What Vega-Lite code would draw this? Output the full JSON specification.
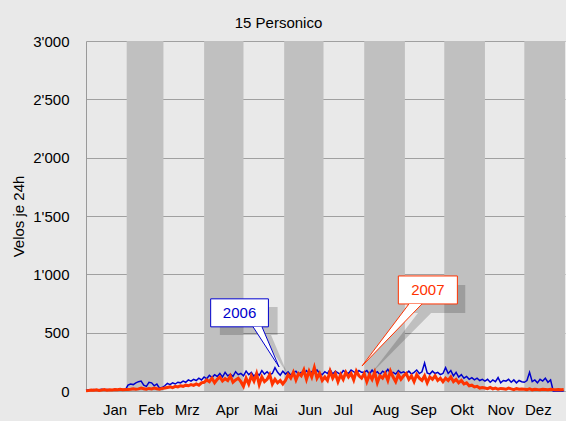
{
  "$schema": "https://vega.github.io/schema/vega-lite/v6.json",
  "width": 479,
  "height": 350,
  "autosize": "none",
  "padding": {"left": 86, "top": 41, "right": 1, "bottom": 30},
  "background": "#e9e9e9",
  "config": {
    "view": {"stroke": null},
    "font": "Liberation Sans",
    "axis": {"labelFont": "Liberation Sans", "titleFont": "Liberation Sans"}
  },
  "title": {"text": "15 Personico", "fontSize": 15, "fontWeight": "normal", "font": "Liberation Sans", "color": "#000", "anchor": "middle", "dx": -47, "offset": 3},
  "datasets": {
    "series": [
      {"d":0,"a":5,"b":3},{"d":2,"a":10,"b":5},{"d":4,"a":8,"b":8},{"d":6,"a":12,"b":6},{"d":8,"a":6,"b":10},{"d":10,"a":10,"b":5},{"d":12,"a":15,"b":8},{"d":14,"a":8,"b":12},{"d":16,"a":12,"b":6},{"d":18,"a":10,"b":10},{"d":20,"a":6,"b":8},{"d":22,"a":14,"b":12},{"d":24,"a":10,"b":10},{"d":26,"a":8,"b":15},{"d":28,"a":12,"b":10},{"d":30,"a":10,"b":12},
      {"d":32,"a":50,"b":12},{"d":34,"a":60,"b":15},{"d":36,"a":55,"b":20},{"d":38,"a":70,"b":15},{"d":40,"a":80,"b":18},{"d":42,"a":85,"b":25},{"d":44,"a":50,"b":20},{"d":46,"a":40,"b":15},{"d":48,"a":75,"b":22},{"d":50,"a":70,"b":18},{"d":52,"a":45,"b":25},{"d":54,"a":60,"b":20},{"d":56,"a":25,"b":15},{"d":58,"a":30,"b":22},
      {"d":60,"a":45,"b":25},{"d":62,"a":65,"b":30},{"d":64,"a":55,"b":35},{"d":66,"a":70,"b":28},{"d":68,"a":60,"b":40},{"d":70,"a":75,"b":35},{"d":72,"a":70,"b":45},{"d":74,"a":85,"b":40},{"d":76,"a":75,"b":50},{"d":78,"a":95,"b":45},{"d":80,"a":85,"b":55},{"d":82,"a":100,"b":48},{"d":84,"a":90,"b":60},{"d":86,"a":110,"b":50},{"d":88,"a":95,"b":70},
      {"d":90,"a":120,"b":75},{"d":92,"a":105,"b":95},{"d":94,"a":135,"b":80},{"d":96,"a":115,"b":110},{"d":98,"a":140,"b":70},{"d":100,"a":125,"b":100},{"d":102,"a":150,"b":120},{"d":104,"a":120,"b":85},{"d":106,"a":160,"b":105},{"d":108,"a":130,"b":90},{"d":110,"a":145,"b":130},{"d":112,"a":125,"b":75},{"d":114,"a":165,"b":95},{"d":116,"a":140,"b":110},{"d":118,"a":150,"b":80},
      {"d":120,"a":130,"b":40},{"d":122,"a":170,"b":110},{"d":124,"a":140,"b":60},{"d":126,"a":160,"b":130},{"d":128,"a":125,"b":85},{"d":130,"a":155,"b":150},{"d":132,"a":135,"b":55},{"d":134,"a":175,"b":120},{"d":136,"a":145,"b":80},{"d":138,"a":165,"b":100},{"d":140,"a":140,"b":140},{"d":142,"a":150,"b":60},{"d":144,"a":200,"b":100},{"d":146,"a":160,"b":70},{"d":148,"a":135,"b":90},{"d":150,"a":170,"b":60},
      {"d":152,"a":145,"b":90},{"d":154,"a":165,"b":140},{"d":156,"a":135,"b":110},{"d":158,"a":155,"b":160},{"d":160,"a":170,"b":95},{"d":162,"a":140,"b":150},{"d":164,"a":160,"b":130},{"d":166,"a":150,"b":180},{"d":168,"a":175,"b":100},{"d":170,"a":145,"b":170},{"d":172,"a":165,"b":120},{"d":174,"a":155,"b":200},{"d":176,"a":180,"b":110},{"d":178,"a":150,"b":150},{"d":180,"a":140,"b":90},
      {"d":182,"a":165,"b":120},{"d":184,"a":150,"b":90},{"d":186,"a":185,"b":170},{"d":188,"a":145,"b":110},{"d":190,"a":170,"b":150},{"d":192,"a":155,"b":80},{"d":194,"a":140,"b":140},{"d":196,"a":175,"b":100},{"d":198,"a":160,"b":160},{"d":200,"a":150,"b":120},{"d":202,"a":180,"b":150},{"d":204,"a":165,"b":95},{"d":206,"a":150,"b":170},{"d":208,"a":175,"b":130},{"d":210,"a":160,"b":110},
      {"d":212,"a":160,"b":150},{"d":214,"a":175,"b":80},{"d":216,"a":145,"b":140},{"d":218,"a":180,"b":100},{"d":220,"a":150,"b":160},{"d":222,"a":165,"b":70},{"d":224,"a":140,"b":130},{"d":226,"a":170,"b":110},{"d":228,"a":155,"b":150},{"d":230,"a":185,"b":90},{"d":232,"a":150,"b":170},{"d":234,"a":160,"b":120},{"d":236,"a":145,"b":80},{"d":238,"a":175,"b":140},{"d":240,"a":155,"b":100},{"d":242,"a":165,"b":130},
      {"d":244,"a":150,"b":150},{"d":246,"a":170,"b":100},{"d":248,"a":145,"b":130},{"d":250,"a":160,"b":80},{"d":252,"a":180,"b":140},{"d":254,"a":150,"b":110},{"d":256,"a":165,"b":90},{"d":258,"a":240,"b":130},{"d":260,"a":155,"b":70},{"d":262,"a":145,"b":120},{"d":264,"a":170,"b":100},{"d":266,"a":150,"b":130},{"d":268,"a":160,"b":90},{"d":270,"a":140,"b":110},{"d":272,"a":150,"b":80},
      {"d":274,"a":200,"b":110},{"d":276,"a":150,"b":90},{"d":278,"a":175,"b":120},{"d":280,"a":130,"b":80},{"d":282,"a":160,"b":100},{"d":284,"a":120,"b":70},{"d":286,"a":140,"b":90},{"d":288,"a":110,"b":60},{"d":290,"a":125,"b":70},{"d":292,"a":100,"b":45},{"d":294,"a":115,"b":50},{"d":296,"a":95,"b":35},{"d":298,"a":110,"b":40},{"d":300,"a":90,"b":25},{"d":302,"a":100,"b":30},
      {"d":304,"a":85,"b":25},{"d":306,"a":100,"b":20},{"d":308,"a":75,"b":30},{"d":310,"a":95,"b":18},{"d":312,"a":80,"b":25},{"d":314,"a":115,"b":15},{"d":316,"a":70,"b":22},{"d":318,"a":90,"b":20},{"d":320,"a":85,"b":15},{"d":322,"a":100,"b":25},{"d":324,"a":75,"b":18},{"d":326,"a":95,"b":12},{"d":328,"a":70,"b":20},{"d":330,"a":90,"b":15},{"d":332,"a":80,"b":18},
      {"d":334,"a":75,"b":15},{"d":336,"a":90,"b":12},{"d":338,"a":160,"b":18},{"d":340,"a":80,"b":10},{"d":342,"a":95,"b":15},{"d":344,"a":70,"b":12},{"d":346,"a":100,"b":10},{"d":348,"a":85,"b":14},{"d":350,"a":110,"b":12},{"d":352,"a":75,"b":10},{"d":354,"a":95,"b":15},{"d":356,"a":0,"b":12},{"d":358,"a":0,"b":10},{"d":360,"a":0,"b":12},{"d":362,"a":0,"b":10},{"d":364,"a":0,"b":12}
    ],
    "bands": [{"s":31,"e":59},{"s":90,"e":120},{"s":151,"e":181},{"s":212,"e":243},{"s":273,"e":304},{"s":334,"e":365}],
    "boxes": [{"d":95,"d2":139,"v":550,"v2":790,"g":"p6","t":"2006","tx":117,"ty":670},{"d":238,"d2":283,"v":746,"v2":986,"g":"p7","t":"2007","tx":260.5,"ty":866}],
    "shadows": [{"d":102,"d2":146,"v":480,"v2":720},{"d":245,"d2":289,"v":669,"v2":909}],
    "pointers": [
      {"g":"p6","x":127.3,"y":550,"y2":550},{"g":"p6","x":134.1,"y":550,"y2":432},{"g":"p6","x":147.1,"y":206,"y2":206},
      {"g":"p7","x":210.3,"y":214,"y2":214},{"g":"p7","x":246.1,"y":746,"y2":631},{"g":"p7","x":256,"y":746,"y2":746}
    ],
    "outlines": [
      {"g":"p6","o":1,"x":127.3,"y":550},{"g":"p6","o":2,"x":147.1,"y":206},{"g":"p6","o":3,"x":134.1,"y":550},
      {"g":"p7","o":1,"x":246.1,"y":746},{"g":"p7","o":2,"x":210.3,"y":214},{"g":"p7","o":3,"x":256,"y":746}
    ],
    "shadowtri": [
      {"g":"s6","x":134.1,"y":480,"y2":480},{"g":"s6","x":141,"y":480,"y2":360},{"g":"s6","x":153.9,"y":137,"y2":137},
      {"g":"s7","x":217,"y":146,"y2":146},{"g":"s7","x":253,"y":669,"y2":555},{"g":"s7","x":263,"y":669,"y2":669}
    ]
  },
  "layer": [
    {
      "data": {"name": "bands"},
      "mark": {"type": "rect", "color": "#c0c0c0"},
      "encoding": {
        "x": {"field": "s", "type": "quantitative", "scale": {"domain": [0, 365], "nice": false, "zero": false}},
        "x2": {"field": "e"}
      }
    },
    {
      "data": {"name": "series"},
      "mark": {"type": "line", "color": "#0000cc", "strokeWidth": 1.5},
      "encoding": {
        "x": {"field": "d", "type": "quantitative", "scale": {"domain": [0, 365], "nice": false, "zero": false},
          "axis": {"title": null, "values": [21.7, 49.3, 76.7, 107.4, 136.6, 170.3, 195.6, 228.2, 256.8, 286.3, 315.7, 344.3],
            "labelExpr": "['Jan','Feb','Mrz','Apr','Mai','Jun','Jul','Aug','Sep','Okt','Nov','Dez'][floor(datum.value/30.42)]",
            "ticks": false, "grid": false, "domain": true, "domainColor": "#999999", "labelFontSize": 15, "labelColor": "#000", "labelPadding": 11, "labelFlush": false, "labelOverlap": false}},
        "y": {"field": "a", "type": "quantitative", "scale": {"domain": [0, 3000], "nice": false},
          "axis": {"title": "Velos je 24h", "values": [0,250,500,750,1000,1250,1500,1750,2000,2250,2500,2750,3000],
            "labelExpr": "datum.value % 500 == 0 ? replace(format(datum.value, ','), ',', \"'\") : ''",
            "ticks": false, "grid": true, "gridColor": "#a0a0a0", "gridWidth": 1, "domain": true, "domainColor": "#999999",
            "labelFontSize": 15, "labelColor": "#000", "labelPadding": 17, "labelOverlap": false,
            "titleFontSize": 15, "titleFontWeight": "normal", "titleColor": "#000", "titlePadding": 6}}
      }
    },
    {
      "data": {"name": "series"},
      "mark": {"type": "line", "color": "#ff3300", "strokeWidth": 3},
      "encoding": {
        "x": {"field": "d", "type": "quantitative"},
        "y": {"field": "b", "type": "quantitative"}
      }
    },
    {
      "data": {"name": "shadows"},
      "mark": {"type": "rect", "color": "#000", "opacity": 0.18},
      "encoding": {
        "x": {"field": "d", "type": "quantitative"}, "x2": {"field": "d2"},
        "y": {"field": "v", "type": "quantitative"}, "y2": {"field": "v2"}
      }
    },
    {
      "data": {"name": "shadowtri"},
      "mark": {"type": "area", "color": "#000", "opacity": 0.18},
      "encoding": {
        "x": {"field": "x", "type": "quantitative"},
        "y": {"field": "y", "type": "quantitative"}, "y2": {"field": "y2"},
        "detail": {"field": "g"}
      }
    },
    {
      "data": {"name": "boxes"},
      "mark": {"type": "rect", "fill": "#ffffff", "strokeWidth": 1},
      "encoding": {
        "x": {"field": "d", "type": "quantitative"}, "x2": {"field": "d2"},
        "y": {"field": "v", "type": "quantitative"}, "y2": {"field": "v2"},
        "stroke": {"field": "g", "type": "nominal", "scale": {"domain": ["p6", "p7"], "range": ["#0000cc", "#ff3300"]}, "legend": null}
      }
    },
    {
      "data": {"name": "pointers"},
      "mark": {"type": "area", "color": "#ffffff"},
      "encoding": {
        "x": {"field": "x", "type": "quantitative"},
        "y": {"field": "y", "type": "quantitative"}, "y2": {"field": "y2"},
        "detail": {"field": "g"}
      }
    },
    {
      "data": {"name": "outlines"},
      "mark": {"type": "line", "strokeWidth": 1},
      "encoding": {
        "x": {"field": "x", "type": "quantitative"},
        "y": {"field": "y", "type": "quantitative"},
        "order": {"field": "o"},
        "stroke": {"field": "g", "type": "nominal", "legend": null}
      }
    },
    {
      "data": {"name": "boxes"},
      "mark": {"type": "text", "fontSize": 15, "font": "Liberation Sans", "align": "center", "baseline": "middle"},
      "encoding": {
        "x": {"field": "tx", "type": "quantitative"},
        "y": {"field": "ty", "type": "quantitative"},
        "text": {"field": "t"},
        "color": {"field": "g", "type": "nominal", "scale": {"domain": ["p6", "p7"], "range": ["#0000cc", "#ff3300"]}, "legend": null}
      }
    }
  ]
}
